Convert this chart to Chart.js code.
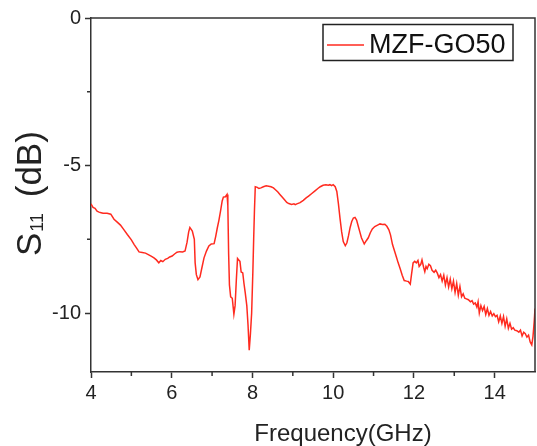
<!DOCTYPE html>
<html>
<head>
<meta charset="utf-8">
<script src="https://cdn.jsdelivr.net/npm/chart.js@4.4.1/dist/chart.umd.min.js"></script>
<style>
  body { margin: 0; background: #fff; }
  canvas { display: block; }
</style>
</head>
<body>
<canvas id="myChart" width="537" height="446"></canvas>
<script>
// S11 curve
const freq = [
	4.00, 4.05, 4.10, 4.15, 4.20, 4.25, 4.30, 4.40, 4.49, 4.57, 4.65, 4.73, 4.80, 4.90, 5.00, 5.07, 5.13, 5.19,
	5.27, 5.35, 5.42, 5.50, 5.56, 5.62, 5.68, 5.73, 5.78, 5.84, 5.90, 5.95, 6.01, 6.07, 6.13, 6.20, 6.27, 6.33,
	6.38, 6.42, 6.45, 6.51, 6.56, 6.58, 6.61, 6.65, 6.70, 6.75, 6.80, 6.86, 6.92, 6.98, 7.05, 7.09, 7.13, 7.17,
	7.21, 7.25, 7.28, 7.33, 7.37, 7.39, 7.41, 7.43, 7.46, 7.50, 7.54, 7.57, 7.60, 7.63, 7.66, 7.69, 7.72, 7.76,
	7.79, 7.82, 7.86, 7.89, 7.92, 7.95, 7.98, 8.01, 8.03, 8.05, 8.07, 8.12, 8.16, 8.21, 8.27, 8.34, 8.40, 8.46,
	8.52, 8.57, 8.63, 8.68, 8.73, 8.80, 8.85, 8.90, 8.97, 9.03, 9.06, 9.10, 9.18, 9.26, 9.33, 9.39, 9.47, 9.55,
	9.62, 9.68, 9.75, 9.82, 9.88, 9.92, 9.96, 10.00, 10.05, 10.09, 10.13, 10.17, 10.21, 10.25, 10.30, 10.34,
	10.38, 10.42, 10.46, 10.50, 10.54, 10.58, 10.62, 10.66, 10.70, 10.77, 10.82, 10.87, 10.92, 10.97, 11.03,
	11.10, 11.16, 11.22, 11.28, 11.33, 11.38, 11.42, 11.47, 11.52, 11.57, 11.61, 11.66, 11.71, 11.76, 11.82,
	11.86, 11.91, 11.94, 11.98, 12.02, 12.06, 12.10, 12.13, 12.17, 12.20, 12.24, 12.27, 12.30, 12.33, 12.37,
	12.41, 12.45, 12.50, 12.54, 12.58, 12.62, 12.66, 12.70, 12.74, 12.78, 12.82, 12.86, 12.90, 12.94, 12.98,
	13.02, 13.06, 13.10, 13.14, 13.18, 13.22, 13.26, 13.30, 13.35, 13.40, 13.44, 13.48, 13.52, 13.56, 13.59,
	13.62, 13.66, 13.70, 13.74, 13.78, 13.82, 13.86, 13.90, 13.94, 13.98, 14.02, 14.06, 14.10, 14.14, 14.18,
	14.22, 14.26, 14.30, 14.34, 14.38, 14.42, 14.46, 14.50, 14.55, 14.60, 14.64, 14.68, 14.72, 14.76, 14.80,
	14.84, 14.88, 14.92, 14.95, 14.98, 15.00
];
const s11 = [
	-6.30, -6.42, -6.45, -6.55, -6.58, -6.60, -6.62, -6.62, -6.65, -6.82, -6.92, -7.02, -7.15, -7.34, -7.52, -7.68, -7.80, -7.93,
	-7.95, -7.97, -8.02, -8.08, -8.13, -8.20, -8.30, -8.22, -8.26, -8.18, -8.15, -8.10, -8.07, -8.00, -7.94, -7.92, -7.93, -7.90,
	-7.60, -7.25, -7.10, -7.22, -7.50, -8.30, -8.70, -8.87, -8.78, -8.45, -8.13, -7.90, -7.73, -7.66, -7.65, -7.40, -7.11, -6.85,
	-6.54, -6.20, -6.07, -6.06, -5.98, -6.35, -8.00, -9.05, -9.45, -9.50, -10.04, -9.75, -8.90, -8.15, -8.20, -8.25, -8.61, -8.64,
	-9.00, -9.30, -9.75, -10.40, -11.26, -10.70, -10.00, -8.60, -7.50, -6.50, -5.72, -5.74, -5.78, -5.76, -5.72, -5.69, -5.70, -5.72,
	-5.76, -5.82, -5.90, -5.98, -6.06, -6.17, -6.25, -6.29, -6.32, -6.30, -6.33, -6.30, -6.26, -6.18, -6.10, -6.04, -5.95, -5.86,
	-5.78, -5.72, -5.67, -5.65, -5.67, -5.65, -5.68, -5.65, -5.72, -5.88, -6.30, -6.80, -7.25, -7.58, -7.72, -7.62,
	-7.38, -7.10, -6.90, -6.78, -6.76, -6.85, -7.05, -7.25, -7.45, -7.66, -7.55, -7.45, -7.28, -7.15, -7.07,
	-7.02, -6.98, -7.00, -6.99, -7.06, -7.18, -7.35, -7.68, -7.90, -8.12, -8.30, -8.50, -8.72, -8.90, -8.92,
	-8.93, -9.02, -8.70, -8.30, -8.25, -8.30, -8.22, -8.42, -8.35, -8.20, -8.45, -8.60, -8.42, -8.50, -8.35,
	-8.40, -8.55, -8.62, -8.55, -8.65, -8.80, -8.70, -8.92, -8.72, -9.05, -8.80, -9.12, -8.85, -9.18, -8.92,
	-9.30, -9.00, -9.40, -9.10, -9.45, -9.35, -9.50, -9.52, -9.55, -9.62, -9.58, -9.70, -9.66, -9.80, -9.62,
	-10.00, -9.75, -9.92, -9.78, -10.05, -9.85, -10.08, -9.95, -10.10, -10.02, -10.12, -10.08, -10.30, -10.10, -10.35,
	-10.12, -10.45, -10.20, -10.52, -10.35, -10.55, -10.50, -10.58, -10.60, -10.65, -10.58, -10.78, -10.65, -10.70, -10.82,
	-10.75, -10.98, -11.08, -10.80, -10.30, -9.85
];

const xMajor = [4, 6, 8, 10, 12, 14],
	  xMinor = [5, 7, 9, 11, 13],
	  yMajor = [-10, -5, 0],
	  yMinor = [-7.5, -2.5];

const seriesName = 'MZF-GO50';
const xTitle = 'Frequency(GHz)';
const fontFam = 'Arial, "Liberation Sans", sans-serif';
const axisCol = '#333';

// top/right frame, short minor ticks, legend box, axis titles
const extras = {
	id: 'extras',
	afterDraw(chart) {
		const ctx = chart.ctx, a = chart.chartArea;
		const xs = chart.scales.x, ys = chart.scales.y;
		ctx.save();
		ctx.strokeStyle = axisCol;
		ctx.lineWidth = 1.5;
		ctx.beginPath();
		ctx.moveTo(a.left, a.top);
		ctx.lineTo(a.right, a.top);
		ctx.lineTo(a.right, a.bottom);
		xMinor.forEach(v => {
			const px = xs.getPixelForValue(v);
			ctx.moveTo(px, a.bottom);
			ctx.lineTo(px, a.bottom + 4);
		});
		yMinor.forEach(v => {
			const py = ys.getPixelForValue(v);
			ctx.moveTo(a.left, py);
			ctx.lineTo(a.left - 4, py);
		});
		ctx.stroke();

		// legend
		const ds = chart.data.datasets[0];
		ctx.lineWidth = 1.5;
		ctx.strokeStyle = '#222';
		ctx.strokeRect(323, 24.5, 190, 36);
		ctx.strokeStyle = ds.borderColor;
		ctx.beginPath();
		ctx.moveTo(327, 45);
		ctx.lineTo(364, 45);
		ctx.stroke();
		ctx.fillStyle = '#111';
		ctx.font = '27px ' + fontFam;
		ctx.textBaseline = 'alphabetic';
		ctx.textAlign = 'left';
		ctx.fillText(ds.label, 369, 53);

		// x axis title (sits right of the plot centre in the original)
		ctx.fillStyle = '#222';
		ctx.font = '24px ' + fontFam;
		ctx.textAlign = 'center';
		ctx.fillText(xTitle, 343, 441);
		ctx.textAlign = 'left';

		// y axis title
		ctx.translate(41, 256);
		ctx.rotate(-Math.PI / 2);
		ctx.font = '35px ' + fontFam;
		ctx.fillText('S', 0, 0);
		let w = ctx.measureText('S').width;
		ctx.font = '18px ' + fontFam;
		ctx.fillText('11', w + 1, 2);
		w += 1 + ctx.measureText('11').width;
		ctx.font = '35px ' + fontFam;
		ctx.fillText(' (dB)', w + 6, 0);
		ctx.restore();
	}
};

const chart = document.getElementById('myChart');
const myChart = new Chart(chart, {
	type: 'line',
	data: {
		datasets: [{
			label: seriesName,
			data: freq.map((f, i) => ({ x: f, y: s11[i] })),
			borderColor: '#ff2a1f',
			borderWidth: 1.5,
			pointRadius: 0,
			tension: 0
		}]
	},
	options: {
		responsive: false,
		animation: false,
		layout: { padding: { top: 18, right: 2, left: 0, bottom: 0 } },
		plugins: { legend: { display: false }, tooltip: { enabled: false } },
		scales: {
			x: {
				type: 'linear',
				min: 4,
				max: 15,
				afterBuildTicks: s => { s.ticks = xMajor.map(v => ({ value: v })); },
				afterFit: s => { s.height = 74; },
				grid: { drawOnChartArea: false, tickLength: 6, tickColor: axisCol, tickWidth: 1.5 },
				border: { display: true, color: axisCol, width: 1.5 },
				ticks: { color: '#222', font: { family: fontFam, size: 20 }, padding: 3, maxRotation: 0, autoSkip: false }
			},
			y: {
				min: -12,
				max: 0,
				afterBuildTicks: s => { s.ticks = yMajor.map(v => ({ value: v })); },
				afterFit: s => { s.width = 91; },
				grid: { drawOnChartArea: false, tickLength: 6, tickColor: axisCol, tickWidth: 1.5 },
				border: { display: true, color: axisCol, width: 1.5 },
				ticks: { color: '#222', font: { family: fontFam, size: 20 }, padding: 4, autoSkip: false }
			}
		}
	},
	plugins: [extras]
});
</script>
</body>
</html>
